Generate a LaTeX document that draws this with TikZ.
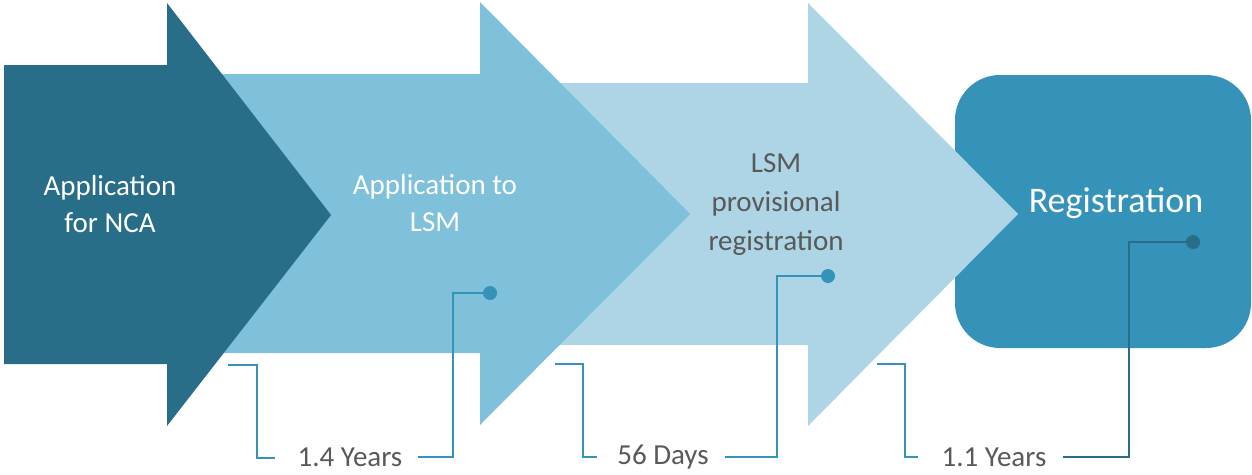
\documentclass[tikz,border=0pt]{standalone}
\usepackage{fontspec}
\setmainfont{Carlito}
\definecolor{cdark}{HTML}{286E89}
\definecolor{cmid}{HTML}{7FC0DB}
\definecolor{clight}{HTML}{ADD5E6}
\definecolor{cbox}{HTML}{3593BA}
\definecolor{ctext}{HTML}{595959}
\begin{document}
\begin{tikzpicture}[x=1pt,y=-1pt,
  steptext/.style={align=center,font=\fontsize{29}{37}\selectfont,inner sep=0pt},
  durlabel/.style={font=\fontsize{29}{35}\selectfont,text=ctext,inner sep=0pt},
  thinbracket/.style={draw=cbox,line width=1.2pt},
  leader/.style={line width=2.6pt},
  dot/.style={circle,inner sep=0pt,minimum size=14pt}]
\useasboundingbox (0,0) rectangle (1252,474);
% final rounded box
\node[fill=cbox,rounded corners=45pt,minimum width=296pt,minimum height=273pt,inner sep=0pt] (reg) at (1103,211.5) {};
\node[steptext,text=white,font=\fontsize{36}{42}\selectfont] (regt) at (1116,203) {Registration};
% arrow 3
\fill[clight] (540,83) -- (808,83) -- (808,3) -- (1018,214) -- (808,426) -- (808,345) -- (540,345) -- cycle;
% arrow 2
\fill[cmid] (200,74) -- (480,74) -- (480,2) -- (690,214) -- (480,425) -- (480,353) -- (200,353) -- cycle;
% arrow 1
\fill[cdark] (4,65) -- (167,65) -- (167,3) -- (331,215) -- (167,426) -- (167,364) -- (4,364) -- cycle;
% step texts
\node[steptext,text=white] (s1) at (110,204) {Application\\for NCA};
\node[steptext,text=white] (s2) at (435,203) {Application to\\LSM};
\node[steptext,text=ctext,font=\fontsize{29}{39}\selectfont] (s3) at (776,205) {LSM\\provisional\\registration};
% duration labels
\node[durlabel] (d1) at (350,457) {1.4 Years};
\node[durlabel] (d2) at (663,457) {56 Days};
\node[durlabel] (d3) at (994,457) {1.1 Years};
% dots
\node[dot,fill=cbox] (p1) at (490,293) {};
\node[dot,fill=cbox] (p2) at (828,276) {};
\node[dot,fill=cdark] (p3) at (1193,242) {};
% bracket corners
\coordinate (b1) at (228,365);
\coordinate (e1) at (275,458);
\coordinate (b2) at (555,364);
\coordinate (e2) at (597,457);
\coordinate (b3) at (877,364);
\coordinate (e3) at (918,457);
\draw[thinbracket] (b1) -- (257,365) |- (e1);
\draw[thinbracket] (b2) -- (583,364) |- (e2);
\draw[thinbracket] (b3) -- (905,364) |- (e3);
% leaders
\draw[leader,cbox] (d1.east) ++(15,0) -- (453,457) |- (p1.center);
\draw[leader,cbox] (d2.east) ++(16,0) -- (777,457) |- (p2.center);
\draw[leader,cdark] (d3.east) ++(16,0) -- (1129,457) |- (p3.center);
\end{tikzpicture}
\end{document}
